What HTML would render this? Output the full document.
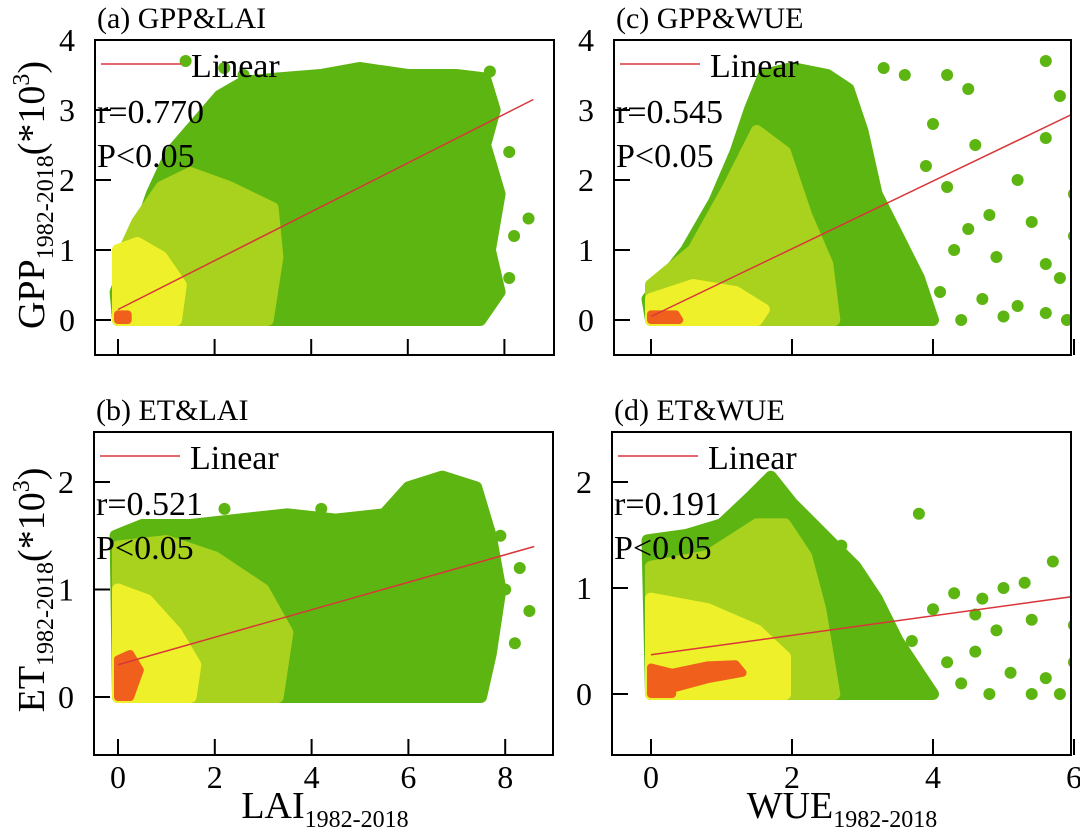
<!DOCTYPE html>
<html><head><meta charset="utf-8">
<style>
html,body{margin:0;padding:0;background:#fff;}
svg{display:block;}
svg text{font-family:"Liberation Serif","DejaVu Serif",serif;}
</style></head>
<body>
<svg id="fig" width="1080" height="840" viewBox="0 0 1080 840" xmlns="http://www.w3.org/2000/svg" font-family="Liberation Serif, serif"></svg>
<script>
// ---------- data ----------
const panelIds = ['a','c','b','d'];
const panelTitles = ['(a) GPP&LAI','(c) GPP&WUE','(b) ET&LAI','(d) ET&WUE'];
const rValues = ['r=0.770','r=0.545','r=0.521','r=0.191'];
const pValues = ['P<0.05','P<0.05','P<0.05','P<0.05'];
const xTicksLAI = [0,2,4,6,8];
const xTicksWUE = [0,2,4,6];
const yTicksGPP = [0,1,2,3,4];
const yTicksET = [0,1,2];
// fit lines: [x0, y0, x1, y1]
const fitA = [0,0.15,8.6,3.15];
const fitC = [0,0.05,6.1,3.0];
const fitB = [0,0.30,8.6,1.40];
const fitD = [0,0.37,6.1,0.93];
// density envelopes (data coords), outer->inner
const greenA = [[0,0],[-0.05,0.4],[0.3,1.0],[0.7,1.8],[1.1,2.4],[1.6,2.8],[2.1,3.2],[2.6,3.4],[3.3,3.45],[4.2,3.5],[5,3.6],[6,3.5],[7,3.5],[7.6,3.45],[7.8,3.0],[7.6,2.5],[7.9,1.8],[7.7,1.0],[7.9,0.4],[7.5,0],[0,0]];
const midA = [[0,0],[0,0.8],[0.4,1.4],[0.9,1.9],[1.5,2.1],[2.3,1.9],[3.2,1.6],[3.3,0.9],[3.1,0],[0,0]];
const yellowA = [[0,0],[0,1.0],[0.4,1.1],[0.9,0.9],[1.3,0.5],[1.2,0],[0,0]];
const redA = [[0,0],[0,0.08],[0.2,0.08],[0.2,0]];
const greenC = [[0,0],[-0.05,0.3],[0.5,1.0],[0.9,1.7],[1.2,2.4],[1.4,3.0],[1.6,3.5],[2.0,3.6],[2.5,3.5],[2.8,3.3],[3.0,2.7],[3.2,1.8],[3.5,1.2],[3.8,0.6],[4.0,0],[0,0]];
const midC = [[0,0],[0,0.5],[0.6,1.0],[1.1,1.9],[1.5,2.7],[1.9,2.4],[2.2,1.5],[2.5,0.8],[2.6,0],[0,0]];
const yellowC = [[0,0],[0,0.3],[0.6,0.5],[1.2,0.4],[1.6,0.15],[1.5,0],[0,0]];
const redC = [[0,0],[0,0.08],[0.35,0.08],[0.4,0]];
const greenB = [[0,0],[-0.05,1.5],[0.5,1.6],[1.5,1.6],[2.5,1.65],[3.5,1.7],[4.5,1.65],[5.5,1.7],[6,1.95],[6.7,2.05],[7.4,1.95],[7.7,1.5],[7.9,1.0],[7.7,0.4],[7.5,0],[0,0]];
const midB = [[0,0],[0,1.4],[1,1.45],[2,1.3],[3,1.0],[3.5,0.6],[3.3,0],[0,0]];
const yellowB = [[0,0],[0,1.0],[0.6,0.9],[1.2,0.6],[1.6,0.3],[1.5,0],[0,0]];
const redB = [[0,0],[0,0.35],[0.25,0.4],[0.45,0.25],[0.25,0]];
const greenD = [[0,0],[-0.05,1.45],[0.5,1.5],[1.0,1.6],[1.4,1.85],[1.7,2.05],[2.0,1.8],[2.3,1.6],[2.6,1.4],[2.9,1.2],[3.2,0.9],[3.5,0.5],[3.8,0.2],[4.0,0],[0,0]];
const midD = [[0,0],[0,1.2],[0.8,1.3],[1.5,1.6],[1.9,1.6],[2.2,1.3],[2.4,0.8],[2.6,0],[0,0]];
const yellowD = [[0,0],[0,0.9],[0.8,0.8],[1.5,0.6],[1.9,0.35],[1.9,0],[0,0]];
const redD = [[0,0],[0,0.25],[0.3,0.2],[0.8,0.27],[1.2,0.28],[1.3,0.2],[0.8,0.14],[0.3,0.05],[0.3,0]];
// sparse outliers
const dotsA = [[1.4,3.7],[2.6,3.5],[8.1,2.4],[8.5,1.45],[8.1,0.6],[8.2,1.2],[2.2,3.6],[7.7,3.55]];
const dotsC = [[3.3,3.6],[3.6,3.5],[4.2,3.5],[4.5,3.3],[5.6,3.7],[5.8,3.2],[4.0,2.8],[4.6,2.5],[5.2,2.0],[5.6,2.6],[6.0,1.8],[4.2,1.9],[4.8,1.5],[5.4,1.4],[6.0,1.2],[4.3,1.0],[4.9,0.9],[5.6,0.8],[4.1,0.4],[4.7,0.3],[5.2,0.2],[5.6,0.1],[5.9,0.0],[4.4,0.0],[5.0,0.05],[3.9,2.2],[4.5,1.3],[5.8,0.6]];
const dotsB = [[7.9,1.5],[8.3,1.2],[8.5,0.8],[8.2,0.5],[7.6,0.3],[8.0,1.0],[2.2,1.75],[4.2,1.75]];
const dotsD = [[2.7,1.4],[3.8,1.7],[4.3,0.95],[4.7,0.9],[5.7,1.25],[5.3,1.05],[4.0,0.8],[4.9,0.6],[5.4,0.7],[6.0,0.65],[4.2,0.3],[4.6,0.4],[5.1,0.2],[5.6,0.15],[6.0,0.3],[5.8,0.0],[5.4,0.0],[4.8,0.0],[4.4,0.1],[3.7,0.5],[4.6,0.75],[5.0,1.0]];

// ---------- layout ----------
const panels = [
 {id:'a', box:[95,40,554,355], x:[118,48.3], y:[320,70], ticksX:xTicksLAI, ticksY:yTicksGPP, fit:fitA, layers:[greenA,midA,yellowA,redA], dots:dotsA},
 {id:'c', box:[614,40,1071,355], x:[651,70.5], y:[320,70], ticksX:xTicksWUE, ticksY:yTicksGPP, fit:fitC, layers:[greenC,midC,yellowC,redC], dots:dotsC},
 {id:'b', box:[94,432,553,755], x:[118,48.4], y:[697,107.5], ticksX:xTicksLAI, ticksY:yTicksET, fit:fitB, layers:[greenB,midB,yellowB,redB], dots:dotsB},
 {id:'d', box:[612,432,1071,755], x:[651,70.5], y:[694,106], ticksX:xTicksWUE, ticksY:yTicksET, fit:fitD, layers:[greenD,midD,yellowD,redD], dots:dotsD}
];
const layerColors = ['#5db512','#a8d21e','#eef02a','#f0601c'];
const NS='http://www.w3.org/2000/svg';
const svg=document.getElementById('fig');
const FF='"Liberation Serif", serif';
function mk(tag,attrs,parent){const e=document.createElementNS(NS,tag);for(const k in attrs)e.setAttribute(k,attrs[k]);if(tag==='text')e.style.fontFamily=FF;(parent||svg).appendChild(e);return e;}

panels.forEach((p,i)=>{
  const sx=v=>p.x[0]+v*p.x[1], sy=v=>p.y[0]-v*p.y[1];
  const g=mk('g',{});
  
  
  const cid='clip'+p.id;
  const cp=mk('clipPath',{id:cid},g); mk('rect',{x:p.box[0],y:p.box[1],width:p.box[2]-p.box[0],height:p.box[3]-p.box[1]},cp);
  const dg=mk('g',{'clip-path':'url(#'+cid+')'},g);
  p.layers.forEach((L,li)=>{
    const pts=L.map(q=>sx(q[0]).toFixed(1)+','+sy(q[1]).toFixed(1)).join(' ');
    const pg=mk('polygon',{points:pts,fill:layerColors[li],stroke:layerColors[li],'stroke-width':li==3?8:12,'stroke-linejoin':'round'},dg);
    
    
  });
  p.dots.forEach(q=>{
    const c=mk('circle',{cx:sx(q[0]),cy:sy(q[1]),r:6,fill:layerColors[0]},dg);
    
    
  });
  const f=p.fit;
  const ln=mk('line',{x1:sx(f[0]),y1:sy(f[1]),x2:sx(f[2]),y2:sy(f[3]),stroke:'#d9363a','stroke-width':1.5},dg);
  
  
  const fr=mk('rect',{x:p.box[0],y:p.box[1],width:p.box[2]-p.box[0],height:p.box[3]-p.box[1],fill:'none',stroke:'#000','stroke-width':2},g);
  
  
  p.ticksX.forEach(t=>{
    mk('line',{x1:sx(t),x2:sx(t),y1:p.box[3],y2:p.box[3]-16,stroke:'#000','stroke-width':2},g);
    if(i>=2){const tx=mk('text',{x:sx(t),y:p.box[3]+33,'font-size':32,'text-anchor':'middle'},g);tx.textContent=t;
      }
  });
  p.ticksY.forEach(t=>{
    mk('line',{y1:sy(t),y2:sy(t),x1:p.box[0],x2:p.box[0]+16,stroke:'#000','stroke-width':2},g);
    const tx=mk('text',{x:p.box[0]-20,y:sy(t)+11,'font-size':32,'text-anchor':'end'},g);tx.textContent=t;
    
  });
  const ti=mk('text',{x:p.box[0]+2,y:p.box[1]-12,'font-size':30},g);ti.textContent=panelTitles[i];
  
  const lg=mk('line',{x1:p.box[0]+6,x2:p.box[0]+86,y1:p.box[1]+24,y2:p.box[1]+24,stroke:'#d9363a','stroke-width':1.5},g);
  
  const lt=mk('text',{x:p.box[0]+96,y:p.box[1]+37,'font-size':34},g);lt.textContent='Linear';
  
  const rt=mk('text',{x:p.box[0]+2,y:p.box[1]+83,'font-size':34},g);rt.textContent=rValues[i];
  
  const pt=mk('text',{x:p.box[0]+2,y:p.box[1]+127,'font-size':34},g);pt.textContent=pValues[i];
  
});

// axis titles
function axTitle(name,main,sub,tail,x,y,rot){
  const t=mk('text',{x:x,y:y,'font-size':38,'text-anchor':'middle',transform:rot?`rotate(-90 ${x} ${y})`:''});
  
  const a=mk('tspan',{},t);a.textContent=main;
  const b=mk('tspan',{'font-size':24,dy:9},t);b.textContent=sub;
  if(tail){const c=mk('tspan',{dy:-9},t);c.textContent=tail;
    const d=mk('tspan',{'font-size':24,dy:-15},t);d.textContent='3';
    const e=mk('tspan',{dy:15},t);e.textContent=')';}
}
axTitle('y-axis-title-gpp','GPP','1982-2018','(*10',44,195,true);
axTitle('y-axis-title-et','ET','1982-2018','(*10',44,590,true);
axTitle('x-axis-title-lai','LAI','1982-2018','',325,818,false);
axTitle('x-axis-title-wue','WUE','1982-2018','',842,818,false);
</script>
</body></html>
